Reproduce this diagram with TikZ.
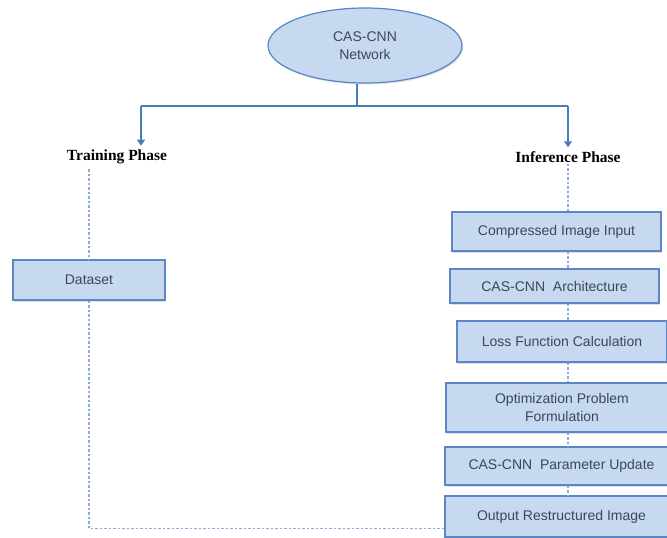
\documentclass[tikz,border=0pt]{standalone}
\usepackage{fontspec}
\setmainfont{Liberation Serif}
\setsansfont{Liberation Sans}
\usetikzlibrary{shapes.geometric,shadows,arrows.meta}
\definecolor{boxfill}{RGB}{198,217,240}
\definecolor{boxline}{RGB}{90,134,196}
\definecolor{trunkline}{RGB}{74,126,187}
\definecolor{linkline}{RGB}{143,170,220}
\definecolor{boxtext}{RGB}{59,71,90}
\begin{document}
\begin{tikzpicture}[x=1pt,y=-1pt,
  box/.style={draw=boxline, line width=1.2pt, fill=boxfill, text=boxtext, align=center, inner sep=0pt,
    font=\sffamily\fontsize{14}{18}\selectfont,
    drop shadow={shadow xshift=1.2pt, shadow yshift=-1.5pt, opacity=0.25}},
  phase/.style={font=\bfseries\fontsize{15.5}{18}\selectfont, inner sep=1pt},
  trunk/.style={trunkline, line width=1.8pt},
  link/.style={linkline, line width=1.3pt, dash pattern=on 2.5pt off 2pt}]
\useasboundingbox (0,0) rectangle (667,538);
\node[box, ellipse, minimum width=194pt, minimum height=75pt] (net) at (365,45.5) {CAS-CNN\\Network};
\node[phase] (train) at (117,157) {Training Phase};
\node[phase] (infer) at (568,157) {Inference Phase};
\node[box, minimum width=152pt, minimum height=40pt] (data) at (89,280) {Dataset};
\node[box, minimum width=209pt, minimum height=39pt] (inp) at (556.5,231.5) {Compressed Image Input};
\node[box, minimum width=209pt, minimum height=34pt] (arch) at (554.5,286) {CAS-CNN\ \ Architecture};
\node[box, minimum width=210pt, minimum height=41pt] (loss) at (562,341.5) {Loss Function Calculation};
\node[box, minimum width=232pt, minimum height=49pt] (opt) at (562,407.5) {Optimization Problem\\Formulation};
\node[box, minimum width=233pt, minimum height=38pt] (upd) at (561.5,466) {CAS-CNN\ \ Parameter Update};
\node[box, minimum width=233pt, minimum height=41pt] (out) at (561.5,516.5) {Output Restructured Image};
\coordinate (split) at (357,106);
\coordinate (lt) at (141,106);
\coordinate (rt) at (568,106);
\coordinate (corner) at ([yshift=-12pt]out.west);
\draw[trunk] (split |- net.south) -- (split);
\draw[trunk] (lt) -- (rt);
\draw[trunk, -{Triangle[width=8pt,length=6pt]}, shorten >=3pt] (lt) -- (lt |- train.north);
\draw[trunk, -{Triangle[width=8pt,length=6pt]}, shorten >=3pt] (rt) -- (rt |- infer.north);
\draw[link] ([yshift=-4pt]train.south -| data) -- (data);
\draw[link] (data.south) -- (data.south |- corner) -- (corner);
\foreach \a/\b in {infer/inp, inp/arch, arch/loss, loss/opt, opt/upd, upd/out}
  \draw[link] (\a.south -| infer) -- (\b.north -| infer);
\end{tikzpicture}
\end{document}
